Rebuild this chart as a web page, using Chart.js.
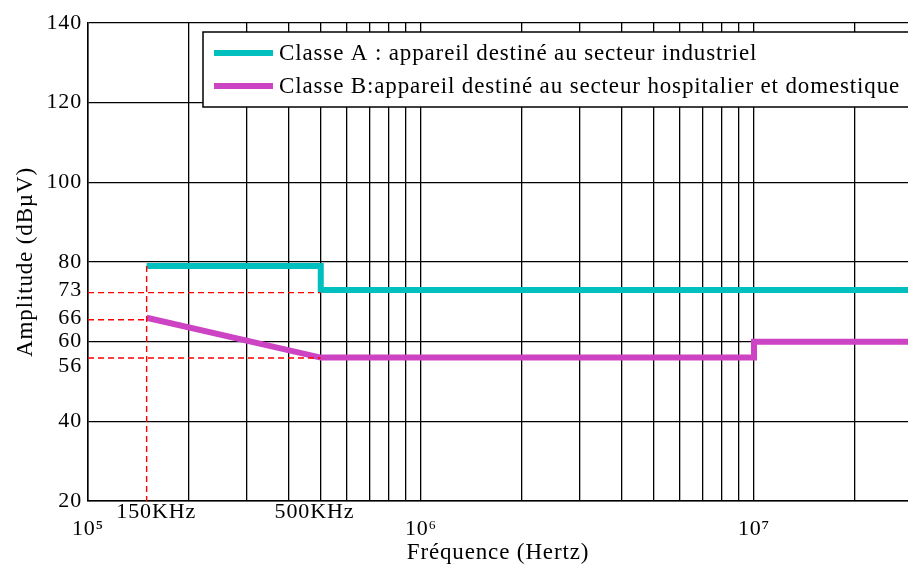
<!DOCTYPE html>
<html>
<head>
<meta charset="utf-8">
<script src="https://cdn.jsdelivr.net/npm/chart.js@4.4.1/dist/chart.umd.min.js"></script>
<style>
  html, body { margin: 0; padding: 0; background: #fff; }
</style>
</head>
<body>
<canvas id="chart" width="908" height="567"></canvas>
<script>
// limits (dBµV)
const seriesLabels = [
  'Classe A : appareil destiné au secteur industriel',
  'Classe B:appareil destiné au secteur hospitalier et domestique'
];
const classAFreq = [150e3, 500e3, 500e3, 30e6];
const classAValues = [79, 79, 73, 73];
const classBFreq = [150e3, 500e3, 10e6, 10e6, 30e6];
const classBValues = [66, 56, 56, 60, 60];

// red dashed guide lines (as drawn, slightly under the limits)
const guideFreq = [[1e5, 5e5], [1e5, 1.5e5], [1e5, 5e5], [1.5e5, 1.5e5]];
const guideValues = [[72.3, 72.3], [65.5, 65.5], [55.9, 55.9], [79, 20]];

// ticks
const xTickValues = [1e5, 1.5e5, 2e5, 3e5, 4e5, 5e5, 6e5, 7e5, 8e5, 9e5,
  1e6, 2e6, 3e6, 4e6, 5e6, 6e6, 7e6, 8e6, 9e6, 1e7, 2e7];
const xTickLabels = { 1e5: ['', '10⁵'], 1.5e5: '   150KHz', 5e5: '500KHz  ', 1e6: ['', '10⁶'], 1e7: ['', '10⁷'] };
const xNoGrid = [1.5e5];
const yTickValues = [20, 40, 56, 60, 66, 73, 80, 100, 120, 140];
const yTickLabels = { 56: ['', '56'] };
const yGridValues = [20, 40, 60, 80, 100, 120, 140];

const colors = ['#00BFBF', '#CC44C4'];
const FONT = 'Liberation Serif';
const SPACING = '0.86px';

function toPoints(xs, ys) {
  return xs.map((x, i) => ({ x: x, y: ys[i] }));
}

const datasets = guideFreq.map((xs, i) => ({
  label: '',
  data: toPoints(xs, guideValues[i]),
  borderColor: '#FF0000',
  borderWidth: 1.4,
  borderDash: [6, 4],
  pointRadius: 0,
  inLegend: false
}));

datasets.push({
  label: seriesLabels[0],
  data: toPoints(classAFreq, classAValues),
  borderColor: colors[0],
  borderWidth: 6,
  pointRadius: 0,
  borderJoinStyle: 'miter',
  inLegend: true
});
datasets.push({
  label: seriesLabels[1],
  data: toPoints(classBFreq, classBValues),
  borderColor: colors[1],
  borderWidth: 6,
  pointRadius: 0,
  borderJoinStyle: 'miter',
  inLegend: true
});

// wider letter spacing, closer to the original serif face
const spacing = {
  id: 'spacing',
  beforeUpdate(chart) { chart.ctx.letterSpacing = SPACING; },
  beforeDraw(chart) { chart.ctx.letterSpacing = SPACING; }
};

// legend box drawn inside the plot, top right
const boxLegend = {
  id: 'boxLegend',
  afterDraw(chart) {
    const ctx = chart.ctx;
    const area = chart.chartArea;
    const x0 = area.left + 115, y0 = area.top + 9;
    ctx.save();
    ctx.letterSpacing = SPACING;
    ctx.fillStyle = '#fff';
    ctx.strokeStyle = '#000';
    ctx.lineWidth = 1.5;
    ctx.fillRect(x0, y0, 720, 75);
    ctx.strokeRect(x0, y0, 720, 75);
    ctx.font = '23px "' + FONT + '"';
    ctx.textBaseline = 'middle';
    ctx.fillStyle = '#000';
    const items = chart.data.datasets.filter(d => d.inLegend);
    items.forEach((d, i) => {
      const y = y0 + 21 + i * 33;
      ctx.strokeStyle = d.borderColor;
      ctx.lineWidth = 6;
      ctx.beginPath();
      ctx.moveTo(x0 + 11, y);
      ctx.lineTo(x0 + 70, y);
      ctx.stroke();
      ctx.fillText(d.label, x0 + 76, y + 1);
    });
    ctx.restore();
  }
};

new Chart(document.getElementById('chart'), {
  type: 'line',
  data: { datasets: datasets },
  plugins: [spacing, boxLegend],
  options: {
    responsive: false,
    animation: false,
    layout: { padding: { top: 23, right: 0, left: 0, bottom: 0 } },
    plugins: { legend: { display: false }, tooltip: { enabled: false } },
    scales: {
      x: {
        type: 'logarithmic',
        min: 1e5,
        max: 2.9e7,
        afterBuildTicks: axis => { axis.ticks = xTickValues.map(v => ({ value: v })); },
        afterFit: axis => { axis.height = 66; },
        ticks: {
          autoSkip: false,
          maxRotation: 0,
          padding: 2,
          color: '#000',
          font: { family: FONT, size: 22, lineHeight: 0.8 },
          callback: v => xTickLabels[v] || ''
        },
        grid: {
          drawTicks: false,
          lineWidth: 1.3,
          color: c => (c.tick && xNoGrid.includes(c.tick.value)) ? 'rgba(0,0,0,0)' : '#000'
        },
        border: { color: '#000', width: 1.5 },
        title: {
          display: true,
          text: 'Fréquence (Hertz)',
          color: '#000',
          font: { family: FONT, size: 23 },
          padding: { top: 0, bottom: 0 }
        }
      },
      y: {
        type: 'linear',
        min: 20,
        max: 140,
        afterBuildTicks: axis => { axis.ticks = yTickValues.map(v => ({ value: v })); },
        afterFit: axis => { axis.width = 88; },
        ticks: {
          autoSkip: false,
          padding: 6,
          color: '#000',
          font: { family: FONT, size: 22, lineHeight: 0.8 },
          callback: v => yTickLabels[v] || String(v)
        },
        grid: {
          drawTicks: false,
          lineWidth: 1.3,
          color: c => (c.tick && yGridValues.includes(c.tick.value)) ? '#000' : 'rgba(0,0,0,0)'
        },
        border: { color: '#000', width: 1.5 },
        title: {
          display: true,
          text: 'Amplitude (dBµV)',
          color: '#000',
          font: { family: FONT, size: 23 },
          padding: { top: 12, bottom: 0 }
        }
      }
    }
  }
});
</script>
</body>
</html>
